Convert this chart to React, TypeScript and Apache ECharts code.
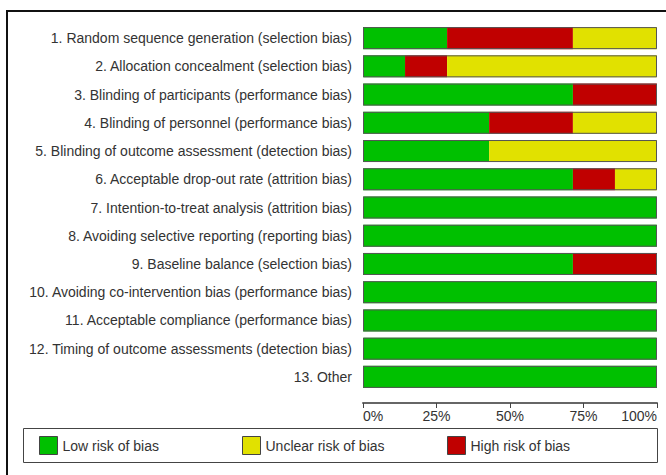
import React, { useEffect, useRef } from "react";
import * as echarts from "echarts";

const categories = [
  "1. Random sequence generation (selection bias)",
  "2. Allocation concealment (selection bias)",
  "3. Blinding of participants (performance bias)",
  "4. Blinding of personnel (performance bias)",
  "5. Blinding of outcome assessment (detection bias)",
  "6. Acceptable drop-out rate (attrition bias)",
  "7. Intention-to-treat analysis (attrition bias)",
  "8. Avoiding selective reporting (reporting bias)",
  "9. Baseline balance (selection bias)",
  "10. Avoiding co-intervention bias (performance bias)",
  "11. Acceptable compliance (performance bias)",
  "12. Timing of outcome assessments (detection bias)",
  "13. Other",
];

const lowRisk = [28.6, 14.3, 71.4, 42.9, 42.9, 71.4, 100, 100, 71.4, 100, 100, 100, 100];
const highRisk = [42.8, 14.3, 28.6, 28.5, 0, 14.3, 0, 0, 28.6, 0, 0, 0, 0];
const unclearRisk = [28.6, 71.4, 0, 28.6, 57.1, 14.3, 0, 0, 0, 0, 0, 0, 0];
const outline = [100, 100, 100, 100, 100, 100, 100, 100, 100, 100, 100, 100, 100];

const xTicks = [0, 25, 50, 75, 100];

const GREEN = "#00C000";
const RED = "#C00000";
const YELLOW = "#E1E100";
const FONT = "'Liberation Sans', Arial, sans-serif";
const TEXT = "#333";

export default function App() {
  const ref = useRef<HTMLDivElement>(null);

  useEffect(() => {
    if (!ref.current) return;
    const chart = echarts.init(ref.current, null, { renderer: "svg" });
    const legendCommon = {
      top: 431,
      itemWidth: 18,
      itemHeight: 18,
      icon: "rect",
      selectedMode: false,
      textStyle: { fontFamily: FONT, fontSize: 14, color: TEXT },
      itemStyle: { borderColor: "#444", borderWidth: 1 },
    };
    chart.setOption({
      animation: false,
      backgroundColor: "#fff",
      textStyle: { fontFamily: FONT },
      grid: { left: 363, right: 9, top: 24, bottom: 84, containLabel: false },
      xAxis: {
        type: "value",
        min: xTicks[0],
        max: xTicks[xTicks.length - 1],
        interval: 25,
        offset: 12,
        splitLine: { show: false },
        axisLine: { show: true, lineStyle: { color: "#666", width: 2 } },
        axisTick: { show: true, length: 5, lineStyle: { color: "#444", width: 1 } },
        axisLabel: {
          formatter: "{value}%",
          fontFamily: FONT,
          fontSize: 14,
          color: TEXT,
          margin: 6,
          alignMinLabel: "left",
          alignMaxLabel: "right",
        },
      },
      yAxis: {
        type: "category",
        data: categories,
        inverse: true,
        axisLine: { show: false },
        axisTick: { show: false },
        axisLabel: { fontFamily: FONT, fontSize: 14, color: TEXT, margin: 11 },
      },
      legend: [
        { ...legendCommon, left: 34, data: ["Low risk of bias"] },
        { ...legendCommon, left: 237, data: ["Unclear risk of bias"] },
        { ...legendCommon, left: 442, data: ["High risk of bias"] },
      ],
      series: [
        {
          name: "Low risk of bias",
          type: "bar",
          stack: "rob",
          data: lowRisk,
          barCategoryGap: "22%",
          itemStyle: { color: GREEN },
        },
        {
          name: "High risk of bias",
          type: "bar",
          stack: "rob",
          data: highRisk,
          itemStyle: { color: RED },
        },
        {
          name: "Unclear risk of bias",
          type: "bar",
          stack: "rob",
          data: unclearRisk,
          itemStyle: { color: YELLOW },
        },
        {
          name: "outline",
          type: "bar",
          data: outline,
          barGap: "-100%",
          silent: true,
          itemStyle: { color: "transparent", borderColor: "#555", borderWidth: 1 },
        },
      ],
      graphic: [
        {
          type: "line",
          shape: { x1: 6, y1: 11, x2: 666, y2: 11 },
          style: { stroke: "#111", lineWidth: 2 },
          silent: true,
        },
        {
          type: "line",
          shape: { x1: 7, y1: 10, x2: 7, y2: 475 },
          style: { stroke: "#111", lineWidth: 2 },
          silent: true,
        },
        {
          type: "rect",
          shape: { x: 23.5, y: 428.5, width: 634, height: 34 },
          style: { fill: "none", stroke: "#444", lineWidth: 1 },
          silent: true,
          z: -1,
        },
      ],
    });
    return () => chart.dispose();
  }, []);

  return (
    <div
      ref={ref}
      style={{ position: "absolute", left: 0, top: 0, width: 666, height: 475 }}
    />
  );
}
